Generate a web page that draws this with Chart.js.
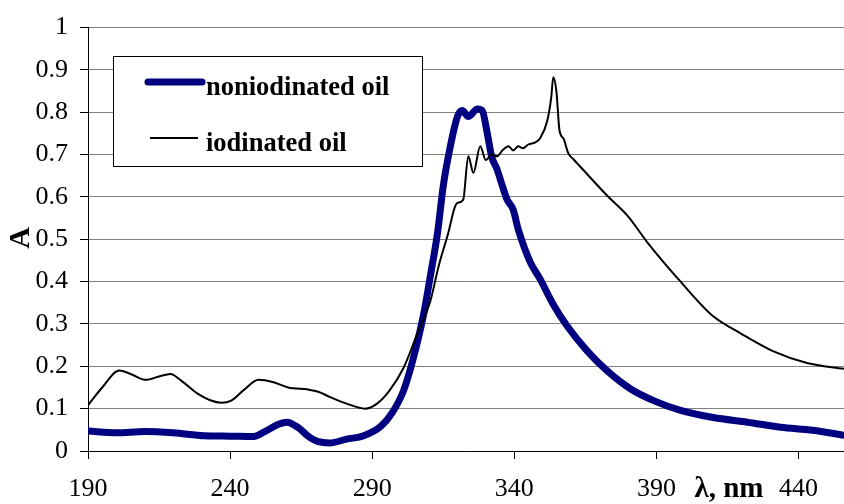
<!DOCTYPE html>
<html>
<head>
<meta charset="utf-8">
<script src="https://cdn.jsdelivr.net/npm/chart.js@4.4.0/dist/chart.umd.min.js"></script>
<style>
    html, body { margin: 0; padding: 0; background: #ffffff; }
    #wrap { width: 844px; height: 504px; position: relative; }
</style>
</head>
<body>
<div id="wrap"><canvas id="chartCanvas" width="844" height="504"></canvas></div>
<script>
// Data
const nonWavelength = [190, 200, 210, 220, 231, 240, 248, 252, 257, 260, 264, 268, 271, 275, 281, 287, 293, 297, 301, 304.5, 308, 310.5, 313, 315, 317.5, 320, 321.7, 323.8, 327, 328.7, 330.5, 332, 334, 335.8, 337.5, 339.6, 341.4, 345.6, 349, 353.7, 358.7, 365.7, 372.7, 380.8, 389, 398.5, 410, 422, 433.7, 445, 456];
const nonAbsorbance = [0.047, 0.043, 0.046, 0.043, 0.036, 0.035, 0.034, 0.045, 0.063, 0.068, 0.055, 0.032, 0.022, 0.019, 0.028, 0.036, 0.058, 0.09, 0.142, 0.22, 0.32, 0.415, 0.516, 0.626, 0.72, 0.79, 0.804, 0.79, 0.808, 0.804, 0.75, 0.696, 0.664, 0.626, 0.593, 0.57, 0.523, 0.446, 0.407, 0.346, 0.294, 0.236, 0.189, 0.147, 0.119, 0.096, 0.079, 0.068, 0.056, 0.049, 0.037];

const iodWavelength = [190, 195, 201, 205, 210.4, 215, 219, 223, 228.7, 233, 237, 240.4, 245, 250, 255, 260.4, 267.5, 271, 275, 281, 287.5, 291.7, 296, 301, 305.8, 310.4, 313.5, 316.8, 319, 320, 322, 323.8, 325.6, 328, 330, 332, 334, 335.8, 338, 339.6, 341.4, 343, 345, 347.4, 349, 351.6, 353, 353.7, 354.8, 355.9, 357.3, 359, 360.8, 363, 372.7, 379.8, 386.8, 398.5, 410, 419.6, 431, 443, 456];
const iodAbsorbance = [0.108, 0.15, 0.19, 0.182, 0.168, 0.176, 0.182, 0.165, 0.135, 0.12, 0.114, 0.119, 0.145, 0.168, 0.163, 0.15, 0.145, 0.14, 0.128, 0.112, 0.1, 0.112, 0.142, 0.196, 0.276, 0.353, 0.44, 0.516, 0.575, 0.586, 0.593, 0.696, 0.657, 0.72, 0.687, 0.7, 0.696, 0.71, 0.72, 0.71, 0.72, 0.715, 0.724, 0.729, 0.738, 0.78, 0.836, 0.883, 0.85, 0.757, 0.738, 0.703, 0.689, 0.673, 0.603, 0.556, 0.493, 0.4, 0.318, 0.278, 0.236, 0.208, 0.194];

const xTicks = [190, 240, 290, 340, 390, 440];
const yTicks = [0, 0.1, 0.2, 0.3, 0.4, 0.5, 0.6, 0.7, 0.8, 0.9, 1];

const seriesLabels = ['noniodinated oil', 'iodinated oil'];

const serif = "'Liberation Serif', 'Times New Roman', serif";

function toPoints(xs, ys) {
    return xs.map((x, i) => ({ x: x, y: ys[i] }));
}

// Legend box and axis titles, drawn on top of the chart
const extrasPlugin = {
    id: 'extras',
    afterDraw(chart) {
        const ctx = chart.ctx;
        ctx.save();

        // legend box
        ctx.fillStyle = '#ffffff';
        ctx.fillRect(113, 56, 309, 110);
        ctx.strokeStyle = '#000000';
        ctx.lineWidth = 1;
        ctx.strokeRect(113.5, 56.5, 309, 110);

        const rows = [
            { sx: 148, ex: 202, y: 82, base: 95 },
            { sx: 150, ex: 198, y: 138, base: 151 }
        ];
        chart.data.datasets.forEach((ds, i) => {
            const r = rows[i];
            ctx.strokeStyle = ds.borderColor;
            ctx.lineWidth = ds.borderWidth;
            ctx.lineCap = i === 0 ? 'round' : 'butt';
            ctx.beginPath();
            ctx.moveTo(r.sx, r.y);
            ctx.lineTo(r.ex, r.y);
            ctx.stroke();

            ctx.fillStyle = '#000000';
            ctx.font = 'bold 26.5px ' + serif;
            ctx.textAlign = 'left';
            ctx.textBaseline = 'alphabetic';
            ctx.fillText(ds.label, 206, r.base);
        });

        // axis titles
        ctx.fillStyle = '#000000';
        ctx.font = 'bold 29px ' + serif;
        ctx.textAlign = 'center';
        ctx.textBaseline = 'middle';
        ctx.fillText('λ, nm', 729, 490);

        ctx.translate(21, 238);
        ctx.rotate(-Math.PI / 2);
        ctx.font = 'bold 30px ' + serif;
        ctx.fillText('A', 0, 0);

        ctx.restore();
    }
};

const ctx = document.getElementById('chartCanvas').getContext('2d');

new Chart(ctx, {
    type: 'line',
    data: {
        datasets: [
            {
                label: seriesLabels[0],
                data: toPoints(nonWavelength, nonAbsorbance),
                borderColor: '#000080',
                borderWidth: 7,
                borderCapStyle: 'round',
                borderJoinStyle: 'round',
                order: 1
            },
            {
                label: seriesLabels[1],
                data: toPoints(iodWavelength, iodAbsorbance),
                borderColor: '#000000',
                borderWidth: 2,
                order: 0
            }
        ]
    },
    options: {
        responsive: false,
        animation: false,
        layout: {
            padding: { top: 23, right: 0, left: 0, bottom: 0 }
        },
        elements: {
            point: { radius: 0, hoverRadius: 0 },
            line: { cubicInterpolationMode: 'monotone', fill: false }
        },
        plugins: {
            legend: { display: false },
            tooltip: { enabled: false }
        },
        scales: {
            x: {
                type: 'linear',
                min: 190,
                max: 456,
                afterBuildTicks: (axis) => {
                    axis.ticks = xTicks.map(v => ({ value: v }));
                },
                afterFit: (scale) => { scale.height = 53; },
                grid: {
                    drawOnChartArea: false,
                    drawTicks: true,
                    tickLength: 8,
                    color: '#000000'
                },
                border: { color: '#000000', width: 1 },
                ticks: {
                    color: '#000000',
                    padding: 15,
                    maxRotation: 0,
                    autoSkip: false,
                    font: { family: serif, size: 26 }
                }
            },
            y: {
                min: 0,
                max: 1,
                afterBuildTicks: (axis) => {
                    axis.ticks = yTicks.map(v => ({ value: v }));
                },
                afterFit: (scale) => { scale.width = 88; },
                grid: {
                    color: '#808080',
                    tickLength: 8,
                    tickColor: '#000000'
                },
                border: { color: '#000000', width: 1 },
                ticks: {
                    color: '#000000',
                    padding: 12,
                    autoSkip: false,
                    font: { family: serif, size: 26 },
                    callback: (value) => String(value)
                }
            }
        }
    },
    plugins: [extrasPlugin]
});
</script>
</body>
</html>
